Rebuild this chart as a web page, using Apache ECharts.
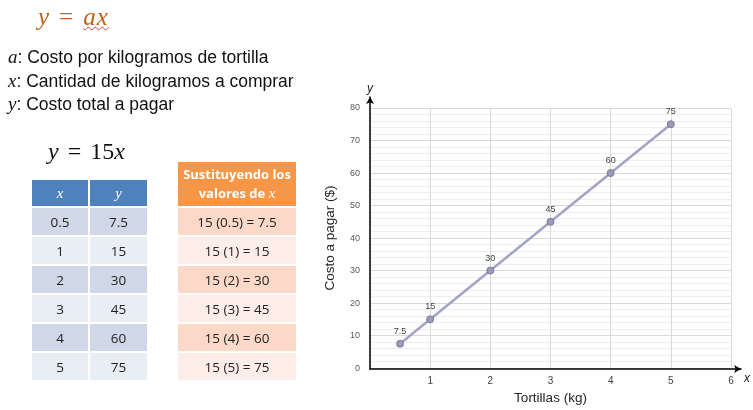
<!DOCTYPE html>
<html><head><meta charset="utf-8">
<script src="https://cdn.jsdelivr.net/npm/echarts@6/dist/echarts.min.js"></script>
<style>
html,body{margin:0;padding:0;background:#fff;}
#wrap{position:relative;width:753px;height:410px;overflow:hidden;}
#chart{position:absolute;left:0;top:0;width:753px;height:410px;}
.t{position:absolute;white-space:nowrap;font-family:"Liberation Sans",Arial,sans-serif;color:#111;}
.m{font-family:"Liberation Serif",serif;font-style:italic;}
table{position:absolute;border-collapse:separate;border-spacing:0;font-family:"Open Sans","Liberation Sans",sans-serif;font-size:13.5px;color:#222;}
td{text-align:center;padding:0;border:1px solid #fff;box-sizing:border-box;}
</style></head>
<body><div id="wrap"><div id="chart"></div>
<div class="t" style="left:38px;top:3px;font-size:25px;color:#c0621a;font-family:'Liberation Serif',serif;"><span class="m">y</span><span style="margin:0 10px;">=</span><span class="m" style="text-decoration:underline wavy #e04040;text-decoration-thickness:1px;letter-spacing:1px;">ax</span></div>
<div class="t" style="left:8px;top:46px;font-size:17.5px;"><span class="m" style="font-size:19px;">a</span>: Costo por kilogramos de tortilla</div>
<div class="t" style="left:8px;top:70px;font-size:17.5px;"><span class="m" style="font-size:19px;">x</span>: Cantidad de kilogramos a comprar</div>
<div class="t" style="left:8px;top:93px;font-size:17.5px;"><span class="m" style="font-size:19px;">y</span>: Costo total a pagar</div>
<div class="t" style="left:48px;top:138px;font-size:24px;font-family:'Liberation Serif',serif;"><span class="m">y</span><span style="margin:0 9px;">=</span>15<span class="m">x</span></div>
<table id="tab1" style="left:31px;top:179px;width:117px;"></table>
<table id="tab2" style="left:177px;top:161px;width:120px;"></table>
</div>
<script>
// ---- data ----
const slope = 15;
const xValues = [0.5, 1, 2, 3, 4, 5];
const yValues = [7.5, 15, 30, 45, 60, 75];
const xTicks = [0, 1, 2, 3, 4, 5, 6];
const yTicks = [0, 10, 20, 30, 40, 50, 60, 70, 80];
const xAxisTitle = 'Tortillas (kg)';
const yAxisTitle = 'Costo a pagar ($)';

// ---- tables ----
const t1 = document.getElementById('tab1');
let h1 = '<tr style="height:28px;background:#4f81bd;color:#fff;"><td class="m" style="width:58px;font-size:15px;">x</td><td class="m" style="font-size:15px;">y</td></tr>';
xValues.forEach((x, i) => {
  const bg = i % 2 === 0 ? '#d0d8e8' : '#e9edf4';
  h1 += `<tr style="height:29px;background:${bg};"><td>${x}</td><td>${yValues[i]}</td></tr>`;
});
t1.innerHTML = h1;
const t2 = document.getElementById('tab2');
let h2 = '<tr style="height:46px;background:#f79646;color:#fff;"><td style="font-weight:bold;line-height:19px;font-size:13px;">Sustituyendo los<br>valores de <span class="m" style="font-weight:normal;font-size:15px;">x</span></td></tr>';
xValues.forEach((x, i) => {
  const bg = i % 2 === 0 ? '#fbd8c8' : '#fdede8';
  h2 += `<tr style="height:29px;background:${bg};"><td>${slope} (${x}) = ${yValues[i]}</td></tr>`;
});
t2.innerHTML = h2;

// ---- chart ----
const chart = echarts.init(document.getElementById('chart'));
const axisFont = 'Liberation Sans';
chart.setOption({
  animation: false,
  grid: [
    {left: 370, right: 22, top: 108, bottom: 41},
    {left: 370, right: 11, top: 97, bottom: 41}
  ],
  xAxis: [
    {type: 'value', gridIndex: 0, min: xTicks[0], max: xTicks[xTicks.length - 1], interval: 1,
     axisLine: {show: false}, axisTick: {show: false},
     axisLabel: {color: '#404040', fontSize: 10, fontFamily: axisFont, margin: 8,
       formatter: v => (v === 0 ? '' : String(v))},
     splitLine: {show: true, lineStyle: {color: '#d9d9d9', width: 1}},
     name: xAxisTitle, nameLocation: 'middle', nameGap: 20,
     nameTextStyle: {color: '#262626', fontSize: 13.5, fontFamily: axisFont}},
    {type: 'value', gridIndex: 1, min: 0, max: 1,
     axisLine: {show: true, lineStyle: {color: '#000', width: 1.5}, symbol: ['none', 'arrow'], symbolSize: [6, 7]},
     axisTick: {show: false}, axisLabel: {show: false}, splitLine: {show: false},
     name: 'x', nameLocation: 'end', nameGap: 3,
     nameTextStyle: {color: '#222', fontSize: 12, fontStyle: 'italic', fontFamily: axisFont, verticalAlign: 'top', padding: [4, 0, 0, 0]}}
  ],
  yAxis: [
    {type: 'value', gridIndex: 0, min: yTicks[0], max: yTicks[yTicks.length - 1], interval: 10,
     axisLine: {show: false}, axisTick: {show: false},
     axisLabel: {color: '#595959', fontSize: 9, fontFamily: axisFont, margin: 10},
     splitLine: {show: true, lineStyle: {color: '#d9d9d9', width: 1}},
     minorTick: {show: false, splitNumber: 5},
     minorSplitLine: {show: true, lineStyle: {color: '#eeeeee', width: 1}},
     name: yAxisTitle, nameLocation: 'middle', nameGap: 33,
     nameTextStyle: {color: '#262626', fontSize: 13.5, fontFamily: axisFont}},
    {type: 'value', gridIndex: 1, min: 0, max: 1,
     axisLine: {show: true, lineStyle: {color: '#000', width: 1.5}, symbol: ['none', 'arrow'], symbolSize: [6, 7]},
     axisTick: {show: false}, axisLabel: {show: false}, splitLine: {show: false},
     name: 'y', nameLocation: 'end', nameGap: 2,
     nameTextStyle: {color: '#222', fontSize: 12, fontStyle: 'italic', fontFamily: axisFont, align: 'center', verticalAlign: 'bottom'}}
  ],
  series: [{
    type: 'line', xAxisIndex: 0, yAxisIndex: 0,
    data: xValues.map((x, i) => [x, yValues[i]]),
    lineStyle: {color: '#a3a3c6', width: 2.5},
    symbol: 'circle', symbolSize: 7,
    itemStyle: {color: '#9b9bbb', borderColor: '#7a7a98', borderWidth: 1},
    label: {show: true, position: 'top', distance: 4, fontSize: 9, color: '#404040', fontFamily: axisFont,
      formatter: p => String(p.value[1])}
  }]
});
</script></body></html>
